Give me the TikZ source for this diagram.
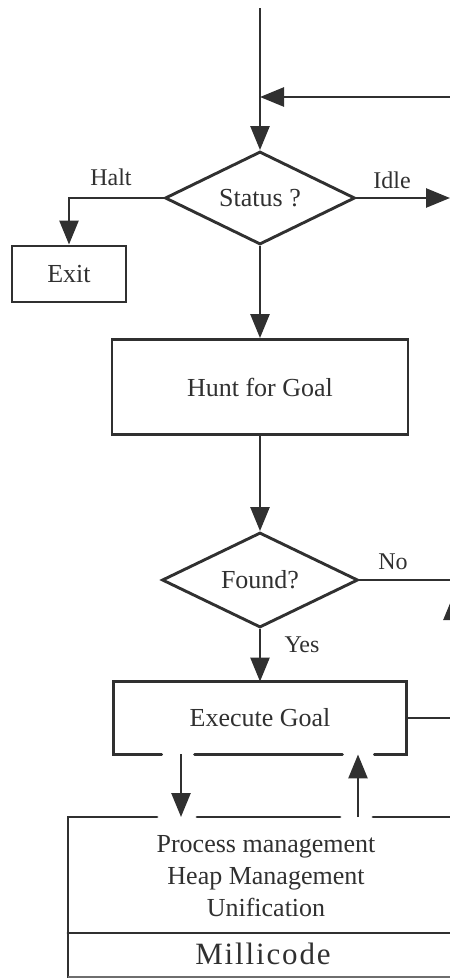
\documentclass[tikz,border=0pt]{standalone}
\usepackage{fontspec}
\setmainfont{Liberation Serif}
\usetikzlibrary{arrows.meta,shapes.geometric}
\definecolor{ink}{RGB}{48,48,48}
\begin{document}
\begin{tikzpicture}[x=1pt,y=-1pt,
  conn/.style={line width=2.6pt, draw=ink},
  arr/.style={conn, -{Triangle[width=19pt,length=24pt]}},
  boxline/.style={line width=2.9pt, draw=ink, line cap=round},
  box/.style={draw=ink, line width=2.9pt, rectangle, inner sep=0pt, text=ink, font=\fontsize{26}{30}\selectfont},
  dec/.style={draw=ink, line width=2.9pt, diamond, aspect=2, inner sep=0pt, text=ink, font=\fontsize{26}{30}\selectfont},
  lab/.style={text=ink, font=\fontsize{24}{28}\selectfont, inner sep=0pt}]
\useasboundingbox (0,0) rectangle (450,978);
\clip (0,0) rectangle (450,978);

% nodes
\node[dec, minimum width=190pt, minimum height=93pt] (status) at (260,198) {Status ?};
\node[box, minimum width=114pt, minimum height=56pt] (exit) at (69,274) {Exit};
\node[box, minimum width=296pt, minimum height=95pt] (hunt) at (260,387) {Hunt for Goal};
\node[dec, minimum width=196pt, minimum height=95pt] (found) at (260,580) {Found?};
\node[box, draw=none, minimum width=290pt, minimum height=70pt] (exec) at (260,718) {Execute Goal};
\node[text=ink, align=center, font=\fontsize{26}{32}\selectfont, inner sep=0pt] (kern) at (266,876)
  {Process management\\Heap Management\\Unification};
\node[text=ink, inner sep=0pt, font=\fontsize{31}{34}\selectfont\addfontfeature{LetterSpace=6}] (milli) at (263,954) {Millicode};

% labels
\node[lab] (halt) at (111,177) {Halt};
\node[lab] (idle) at (392,180) {Idle};
\node[lab] (no) at (393,562) {No};
\node[lab] (yes) at (302,645) {Yes};

% free ends
\coordinate (start) at (260,8);
\coordinate (fbR) at (456,97);
\coordinate (fbJ) at (260,97);
\coordinate (idleE) at (450,201);
\coordinate (edge) at (456,0);
\coordinate (mtop) at (265,817);
\coordinate (rbot) at (453,720);
\coordinate (rtop) at (453,596);

% execute box outline with gaps
\draw[boxline] ([xshift=48pt]exec.south west) -- (exec.south west) -- (exec.north west)
  -- (exec.north east) -- (exec.south east) -- ([xshift=-32pt]exec.south east);
\draw[boxline] ([xshift=81pt]exec.south west) -- ([xshift=-64pt]exec.south east);

% millicode box
\draw[boxline] (157,817) -- (68,817) -- (68,985);
\draw[boxline] (197,817) -- (340,817);
\draw[boxline] (373,817) -- (460,817);
\draw[boxline] (68,933) -- (460,933);
\draw[line width=1.6pt, draw=ink!70] (68,977) -- (460,977);

% connectors
\draw[arr] (start) -- (status.north);
\draw[arr] (fbR) -- (fbJ);
\draw[arr] (status.west) -| (exit.north);
\draw[arr] (status.east) -- (status.east -| idleE);
\draw[arr] (status.south) -- (hunt.north);
\draw[arr] (hunt.south) -- (found.north);
\draw[conn] (found.east) -- (found.east -| edge);
\draw[arr] (found.south) -- (exec.north);
\draw[conn] (exec.east) -- (exec.east -| edge);
\draw[arr] (rbot) -- (rtop);
\draw[arr] ([xshift=-79pt]exec.south) -- ([xshift=-79pt]exec.south |- mtop);
\draw[arr] ([xshift=98pt]exec.south |- mtop) -- ([xshift=98pt]exec.south);
\end{tikzpicture}
\end{document}
